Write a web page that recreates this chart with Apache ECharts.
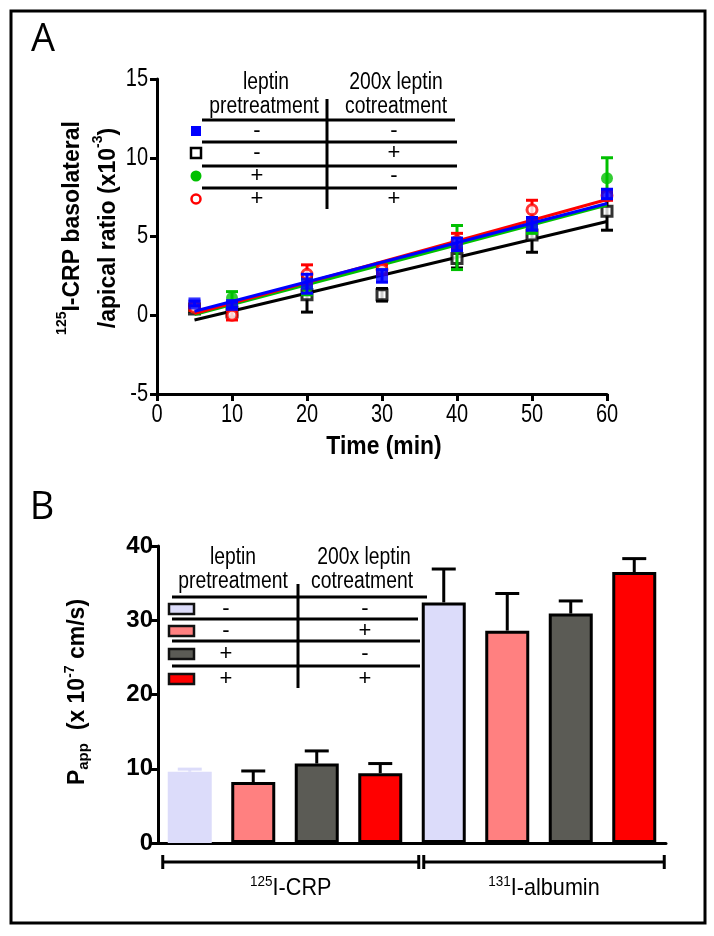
<!DOCTYPE html>
<html><head><meta charset="utf-8">
<script src="https://cdn.jsdelivr.net/npm/echarts@6/dist/echarts.min.js"></script>
<style>html,body{margin:0;padding:0;background:#fff}#c{width:714px;height:936px}</style>
</head><body><div id="c"></div>
<script>
// ---------- Panel A data ----------
const timeMin = [5, 10, 20, 30, 40, 50, 60];
const blueMean  = [0.75, 0.65, 2.0, 2.5, 4.5, 5.8, 7.7];
const blueSem   = [0.15, 0.2, 0.6, 0.4, 0.4, 0.4, 0.3];
const blackMean = [0.4, 0.2, 1.3, 1.3, 3.6, 5.1, 6.6];
const blackSem  = [0.15, 0.2, 1.1, 0.4, 0.6, 1.1, 1.2];
const greenMean = [0.5, 1.1, 1.8, 3.0, 4.3, 5.6, 8.7];
const greenSem  = [0.2, 0.4, 0.5, 0.3, 1.4, 0.4, 1.3];
const redMean   = [0.5, 0.0, 2.6, 2.9, 4.7, 6.7, 7.6];
const redSem    = [0.2, 0.3, 0.6, 0.3, 0.5, 0.6, 0.3];
const fitTime  = [5, 60];
const blueFit  = [0.25, 7.1];
const blackFit = [-0.3, 5.95];
const greenFit = [0.05, 7.0];
const redFit   = [0.1, 7.35];
const xTicksA = [0, 10, 20, 30, 40, 50, 60];
const yTicksA = [-5, 0, 5, 10, 15];

// ---------- Panel B data ----------
const barGroups = ['125I-CRP', '131I-albumin'];
const treatments = ['control', '200x leptin', 'leptin pre', 'leptin pre + 200x'];
const crpMean = [9.6, 8.2, 10.7, 9.4];
const crpSem  = [0.35, 1.5, 1.7, 1.3];
const albMean = [32.4, 28.6, 30.9, 36.5];
const albSem  = [4.5, 5.0, 1.7, 1.8];
const yTicksB = [0, 10, 20, 30, 40];

const barCats = [];
barGroups.forEach(g => treatments.forEach(t => barCats.push(g + ' / ' + t)));
const barMeans = crpMean.concat(albMean);
const barSems = crpSem.concat(albSem);

const LAV = '#dcdcfa', PINK = '#ff8080', GREY = '#5b5b55', RED = '#ff0000';
const barFill = [LAV, PINK, GREY, RED, LAV, PINK, GREY, RED];

const SANS = '"Liberation Sans",Arial,sans-serif';

const chart = echarts.init(document.getElementById('c'), null, {renderer: 'canvas'});

function pairs(xs, ys) { return xs.map((x, i) => [x, ys[i]]); }
function triples(xs, ys, es) { return xs.map((x, i) => [x, ys[i], es[i]]); }

function errA(color) {
  return function (params, api) {
    const x = api.value(0), m = api.value(1), s = api.value(2);
    const lo = api.coord([x, m - s]), hi = api.coord([x, m + s]);
    const h = 6;
    const st = {stroke: color, lineWidth: 3, fill: null};
    return {type: 'group', children: [
      {type: 'line', shape: {x1: lo[0], y1: lo[1], x2: hi[0], y2: hi[1]}, style: st},
      {type: 'line', shape: {x1: hi[0] - h, y1: hi[1], x2: hi[0] + h, y2: hi[1]}, style: st},
      {type: 'line', shape: {x1: lo[0] - h, y1: lo[1], x2: lo[0] + h, y2: lo[1]}, style: st}
    ]};
  };
}

function seriesA(name, color, mean, sem, fit, symbol, open, zb) {
  return [
    {type: 'line', name: name + ' fit', xAxisIndex: 0, yAxisIndex: 0, data: pairs(fitTime, fit),
      symbol: 'none', lineStyle: {color: color, width: 3}, z: zb, silent: true, animation: false},
    {type: 'custom', name: name + ' sem', xAxisIndex: 0, yAxisIndex: 0, data: triples(timeMin, mean, sem),
      renderItem: errA(color), z: zb + 1, silent: true, animation: false},
    {type: 'scatter', name: name, xAxisIndex: 0, yAxisIndex: 0, data: pairs(timeMin, mean),
      symbol: symbol, symbolSize: open ? 10 : 12,
      itemStyle: open ? {color: '#fff', borderColor: color, borderWidth: 3} : {color: color},
      z: zb + 2, silent: true, animation: false}
  ];
}

function errB(params, api) {
  const i = api.value(0), m = api.value(1), s = api.value(2);
  const b = api.coord([i, m]), t = api.coord([i, m + s]);
  const color = i === 0 ? LAV : '#000';
  const st = {stroke: color, lineWidth: 3, fill: null};
  return {type: 'group', children: [
    {type: 'line', shape: {x1: b[0], y1: b[1], x2: t[0], y2: t[1]}, style: st},
    {type: 'line', shape: {x1: t[0] - 12, y1: t[1], x2: t[0] + 12, y2: t[1]}, style: st}
  ]};
}

const axisLineStyle = {color: '#000', width: 3};

const option = {
  backgroundColor: '#fff',
  animation: false,
  grid: [
    {left: 157, top: 79, width: 450, height: 315},
    {left: 158, top: 546, width: 508, height: 297}
  ],
  xAxis: [
    {type: 'value', gridIndex: 0, min: xTicksA[0], max: xTicksA[xTicksA.length - 1], interval: 10,
      axisLine: {show: true, onZero: false, lineStyle: axisLineStyle},
      axisTick: {show: true, length: 7, lineStyle: {color: '#000', width: 3}},
      axisLabel: {show: false}, splitLine: {show: false}},
    {type: 'category', gridIndex: 1, data: barCats, boundaryGap: true,
      axisLine: {show: true, onZero: false, lineStyle: axisLineStyle},
      axisTick: {show: false}, axisLabel: {show: false}, splitLine: {show: false}}
  ],
  yAxis: [
    {type: 'value', gridIndex: 0, min: yTicksA[0], max: yTicksA[yTicksA.length - 1], interval: 5,
      axisLine: {show: true, onZero: false, lineStyle: axisLineStyle},
      axisTick: {show: true, length: 7, lineStyle: {color: '#000', width: 3}},
      axisLabel: {show: false}, splitLine: {show: false}},
    {type: 'value', gridIndex: 1, min: yTicksB[0], max: yTicksB[yTicksB.length - 1], interval: 10,
      axisLine: {show: true, onZero: false, lineStyle: axisLineStyle},
      axisTick: {show: true, length: 7, lineStyle: {color: '#000', width: 3}},
      axisLabel: {color: '#000', fontSize: 24, fontWeight: 'bold', fontFamily: SANS, margin: 5},
      splitLine: {show: false}}
  ],
  series: [].concat(
    seriesA('black', '#000000', blackMean, blackSem, blackFit, 'rect', true, 10),
    seriesA('green', '#00c000', greenMean, greenSem, greenFit, 'circle', false, 20),
    seriesA('red', '#ff0000', redMean, redSem, redFit, 'circle', true, 30),
    seriesA('blue', '#0000ff', blueMean, blueSem, blueFit, 'rect', false, 40),
    [
      {type: 'custom', xAxisIndex: 1, yAxisIndex: 1, renderItem: errB, z: 1,
        data: barMeans.map((m, i) => [i, m, barSems[i]]), silent: true},
      {type: 'bar', xAxisIndex: 1, yAxisIndex: 1, barWidth: 44, z: 2, silent: true,
        data: barMeans.map((m, i) => ({value: m, itemStyle: {
          color: barFill[i], borderColor: i === 0 ? LAV : '#000', borderWidth: i === 0 ? 0 : 3}}))}
    ]
  )
};
chart.setOption(option);

// ---------- decorations (frame, panel letters, titles, legend tables, tick labels, brackets) ----------
const G = [];
function line(x1, y1, x2, y2, w) { G.push({type: 'line', shape: {x1, y1, x2, y2}, style: {stroke: '#000', lineWidth: w || 3}, z: 50}); }
function text(x, y, t, font, sx, align) {
  G.push({type: 'text', x: x, y: y, scaleX: sx || 1, z: 50, style: {text: t, font: font, fill: '#000',
    align: align || 'center', textAlign: align || 'center', verticalAlign: 'middle', textVerticalAlign: 'middle'}});
}
// frame
G.push({type: 'rect', shape: {x: 11, y: 11, width: 694, height: 912}, style: {fill: null, stroke: '#000', lineWidth: 3}, z: 50});
text(43, 40, 'A', '38px "Open Sans","Noto Sans",sans-serif');
text(42, 508, 'B', '38px "Open Sans","Noto Sans",sans-serif');

// condensed tick labels for panel A, placed on the axis scale
const NT = '25px ' + SANS, NS = 0.8;
xTicksA.forEach(v => {
  const p = chart.convertToPixel({xAxisIndex: 0}, v);
  text(p, 415, String(v), NT, NS);
});
yTicksA.forEach(v => {
  const p = chart.convertToPixel({yAxisIndex: 0}, v);
  text(148, p, String(v), NT, NS, 'right');
});
text(384, 447, 'Time (min)', 'bold 26px ' + SANS, 0.88);

// rotated y-axis titles
function rotText(x, y, t, rich) {
  G.push({type: 'text', x: x, y: y, rotation: Math.PI / 2, z: 50,
    style: {text: t, rich: rich, align: 'center', textAlign: 'center', verticalAlign: 'middle', textVerticalAlign: 'middle', fill: '#000'}});
}
const richA = {
  b: {fontSize: 23, fontWeight: 'bold', fontFamily: SANS, lineHeight: 36, fill: '#000', color: '#000'},
  s: {fontSize: 14, fontWeight: 'bold', fontFamily: SANS, lineHeight: 36, verticalAlign: 'top', padding: [0, 0, 10, 0], fill: '#000', color: '#000'}
};
rotText(91, 228, '{s|125}{b|I-CRP basolateral}\n{b|/apical ratio (x10}{s|-3}{b|)}', richA);
const richB = {
  b: {fontSize: 23, fontWeight: 'bold', fontFamily: SANS, lineHeight: 30, fill: '#000', color: '#000'},
  sub: {fontSize: 15, fontWeight: 'bold', fontFamily: SANS, lineHeight: 30, padding: [12, 0, 0, 0], fill: '#000', color: '#000'},
  s: {fontSize: 14, fontWeight: 'bold', fontFamily: SANS, lineHeight: 30, verticalAlign: 'top', padding: [0, 0, 10, 0], fill: '#000', color: '#000'}
};
rotText(78, 692, '{b|P}{sub|app}{b|  (x 10}{s|-7}{b| cm/s)}', richB);

// legend table A
const hdr = '23px ' + SANS, HS = 0.84;
text(266, 83, 'leptin', hdr, HS); text(264, 107, 'pretreatment', hdr, HS);
text(396, 83, '200x leptin', hdr, HS); text(396, 107, 'cotreatment', hdr, HS);
line(202, 120, 455, 120); line(202, 142, 457, 142); line(202, 166, 457, 166); line(202, 188, 457, 188);
line(327, 99, 327, 209);
const rowA = [131, 153, 176, 199];
G.push({type: 'rect', shape: {x: 191, y: rowA[0] - 5, width: 10, height: 10}, style: {fill: '#0000ff'}, z: 50});
G.push({type: 'rect', shape: {x: 191, y: rowA[1] - 5, width: 10, height: 10}, style: {fill: '#fff', stroke: '#000', lineWidth: 2.5}, z: 50});
G.push({type: 'circle', shape: {cx: 196, cy: rowA[2], r: 5.5}, style: {fill: '#00c000'}, z: 50});
G.push({type: 'circle', shape: {cx: 196, cy: rowA[3], r: 4.5}, style: {fill: '#fff', stroke: '#ff0000', lineWidth: 2.5}, z: 50});
const signsPre = ['-', '-', '+', '+'], signsCo = ['-', '+', '-', '+'];
const sgn = '22px ' + SANS;
rowA.forEach((y, i) => { text(257, y, signsPre[i], sgn); text(394, y, signsCo[i], sgn); });

// legend table B
text(233, 558, 'leptin', hdr, HS); text(233, 582, 'pretreatment', hdr, HS);
text(364, 558, '200x leptin', hdr, HS); text(362, 582, 'cotreatment', hdr, HS);
line(172, 597, 427, 597); line(172, 619, 418, 619); line(172, 641, 420, 641); line(172, 666, 420, 666);
line(298, 584, 298, 688);
const rowB = [609, 631, 654, 679];
const swatch = [LAV, PINK, GREY, RED];
rowB.forEach((y, i) => {
  G.push({type: 'rect', shape: {x: 169, y: y - 5, width: 25, height: 10}, style: {fill: swatch[i], stroke: '#111', lineWidth: 2.5}, z: 50});
  text(226, y, signsPre[i], sgn); text(365, y, signsCo[i], sgn);
});

// group brackets under panel B, positioned from the category axis
const c0 = chart.convertToPixel({xAxisIndex: 1}, barCats[0]);
const c4 = chart.convertToPixel({xAxisIndex: 1}, barCats[4]);
const c7 = chart.convertToPixel({xAxisIndex: 1}, barCats[7]);
const by = 862;
const l1 = c0 - 27, r1 = c4 - 25, l2 = c4 - 20, r2 = c7 + 30;
line(l1, by, r1, by); line(l1, by - 7, l1, by + 7); line(r1, by - 7, r1, by + 7);
line(l2, by, r2, by); line(l2, by - 7, l2, by + 7); line(r2, by - 7, r2, by + 7);
const richL = {
  n: {fontSize: 24, fontFamily: SANS, lineHeight: 28, fill: '#000', color: '#000'},
  s: {fontSize: 15, fontFamily: SANS, lineHeight: 28, verticalAlign: 'top', padding: [0, 0, 10, 0], fill: '#000', color: '#000'}
};
G.push({type: 'text', x: (l1 + r1) / 2, y: 888, scaleX: 0.9, z: 50, style: {text: '{s|125}{n|I-CRP}', rich: richL, align: 'center', textAlign: 'center', verticalAlign: 'middle', textVerticalAlign: 'middle'}});
G.push({type: 'text', x: (l2 + r2) / 2, y: 888, scaleX: 0.9, z: 50, style: {text: '{s|131}{n|I-albumin}', rich: richL, align: 'center', textAlign: 'center', verticalAlign: 'middle', textVerticalAlign: 'middle'}});

chart.setOption({graphic: G});
</script></body></html>
